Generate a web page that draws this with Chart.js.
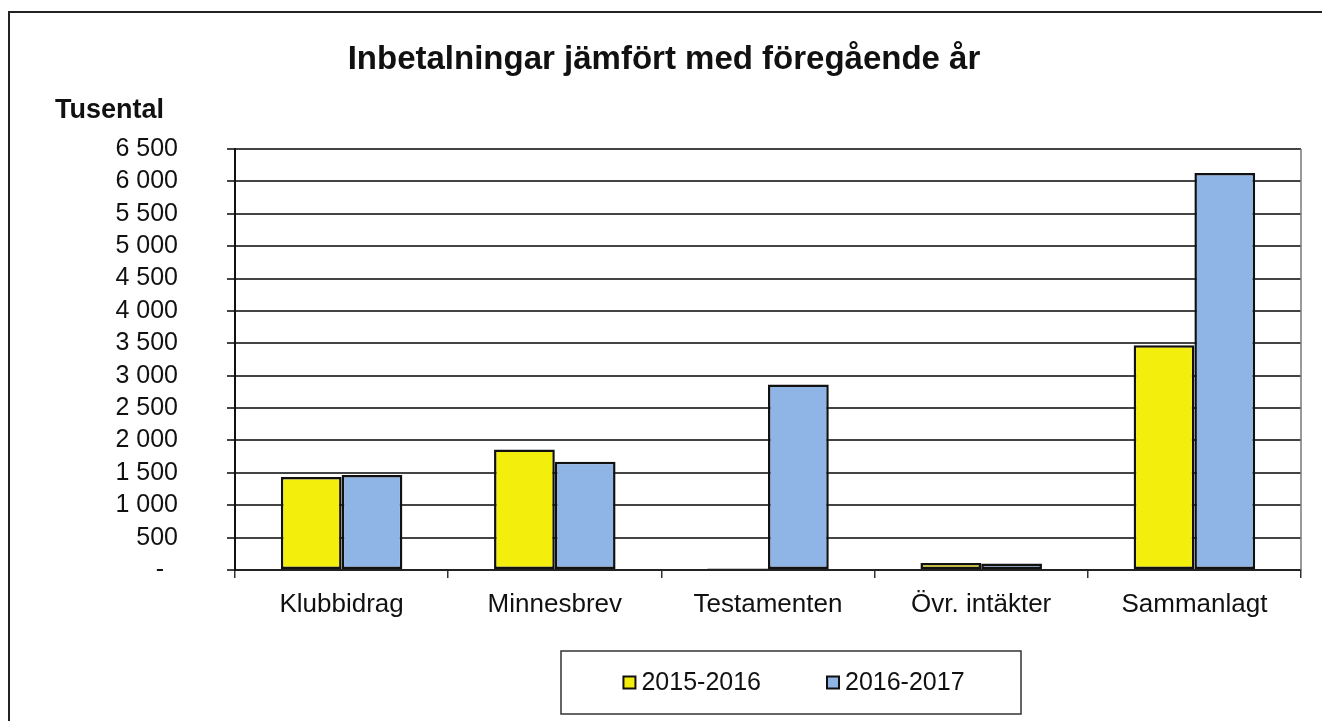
<!DOCTYPE html>
<html>
<head>
<meta charset="utf-8">
<script src="https://cdn.jsdelivr.net/npm/chart.js@4/dist/chart.umd.min.js"></script>
<style>
  html, body { margin: 0; padding: 0; background: #fff; }
  #wrap { position: relative; width: 1322px; height: 721px; }
</style>
</head>
<body>
<div id="wrap"><canvas id="myChart"></canvas></div>
<script>
// data
const kategorier = ['Klubbidrag', 'Minnesbrev', 'Testamenten', 'Övr. intäkter', 'Sammanlagt'];
const ar2015 = [1435, 1860, 25, 110, 3470];
const ar2016 = [1465, 1670, 2865, 100, 6130];
const serieNamn = ['2015-2016', '2016-2017'];
const serieFarg = ['#f4ee0c', '#8fb4e6'];

const fontNamn = '"Liberation Sans", Arial, sans-serif';

// tusental med mellanslag, noll som streck
function formatTick(v) {
    if (v === 0) return '-  ';
    return String(v).replace(/\B(?=(\d{3})+(?!\d))/g, ' ');
}

// ram, rubrik, enhet, legend och högerkant
const ritaExtra = {
    id: 'ritaExtra',
    afterDraw(chart) {
        const ctx = chart.ctx;
        const area = chart.chartArea;
        ctx.save();

        // yttre ram
        ctx.strokeStyle = '#222';
        ctx.lineWidth = 2;
        ctx.beginPath();
        ctx.moveTo(9, 721);
        ctx.lineTo(9, 12);
        ctx.lineTo(1322, 12);
        ctx.stroke();

        // högerkant på diagramytan
        ctx.strokeStyle = '#777';
        ctx.lineWidth = 1.5;
        ctx.beginPath();
        ctx.moveTo(area.right, area.top);
        ctx.lineTo(area.right, area.bottom);
        ctx.stroke();

        // rubrik
        ctx.fillStyle = '#111';
        ctx.textBaseline = 'alphabetic';
        ctx.textAlign = 'center';
        ctx.font = 'bold 33px ' + fontNamn;
        ctx.fillText('Inbetalningar jämfört med föregående år', 664, 69);

        // enhet
        ctx.textAlign = 'left';
        ctx.font = 'bold 27px ' + fontNamn;
        ctx.fillText('Tusental', 55, 118);

        // legend
        const box = { x: 561, y: 651, w: 460, h: 63 };
        ctx.strokeStyle = '#333';
        ctx.lineWidth = 1.5;
        ctx.strokeRect(box.x, box.y, box.w, box.h);

        ctx.font = '25px ' + fontNamn;
        const ds = chart.data.datasets;
        const marker = 12, gapText = 6, gapItem = 66;
        const widths = ds.map(d => marker + gapText + ctx.measureText(d.label).width);
        const total = widths.reduce((a, b) => a + b, 0) + gapItem * (ds.length - 1);
        let x = box.x + box.w / 2 - total / 2 + 3;
        const cy = box.y + box.h / 2;
        ds.forEach((d, i) => {
            ctx.fillStyle = d.backgroundColor;
            ctx.fillRect(x, cy - marker / 2, marker, marker);
            ctx.strokeStyle = '#111';
            ctx.lineWidth = 2;
            ctx.strokeRect(x, cy - marker / 2, marker, marker);
            ctx.fillStyle = '#111';
            ctx.textBaseline = 'middle';
            ctx.fillText(d.label, x + marker + gapText, cy + 1);
            x += widths[i] + gapItem;
        });

        ctx.restore();
    }
};

const config = {
    type: 'bar',
    data: {
        labels: kategorier,
        datasets: [
            {
                label: serieNamn[0],
                data: ar2015,
                backgroundColor: serieFarg[0],
                borderColor: '#111',
                borderWidth: 2.5,
                borderSkipped: false
            },
            {
                label: serieNamn[1],
                data: ar2016,
                backgroundColor: serieFarg[1],
                borderColor: '#111',
                borderWidth: 2.5,
                borderSkipped: false
            }
        ]
    },
    options: {
        responsive: false,
        animation: false,
        categoryPercentage: 0.57,
        barPercentage: 1,
        layout: {
            padding: { top: 149, right: 21, left: 0, bottom: 0 }
        },
        plugins: {
            legend: { display: false },
            title: { display: false },
            tooltip: { enabled: false }
        },
        scales: {
            x: {
                afterFit(scale) { scale.height = 151; },
                grid: {
                    offset: true,
                    drawOnChartArea: false,
                    drawTicks: true,
                    tickLength: 8,
                    color: '#333',
                    lineWidth: 1.5
                },
                border: { color: '#222', width: 2 },
                ticks: {
                    color: '#111',
                    padding: 11,
                    maxRotation: 0,
                    autoSkip: false,
                    font: { family: fontNamn, size: 26 }
                }
            },
            y: {
                min: 0,
                max: 6500,
                afterFit(scale) { scale.width = 235; },
                grid: {
                    color: '#444',
                    lineWidth: 2,
                    tickLength: 8
                },
                border: { color: '#111', width: 2 },
                ticks: {
                    stepSize: 500,
                    autoSkip: false,
                    color: '#111',
                    padding: 49,
                    font: { family: fontNamn, size: 25 },
                    callback: formatTick
                }
            }
        }
    },
    plugins: [ritaExtra]
};

document.addEventListener('DOMContentLoaded', function() {
    const canvas = document.getElementById('myChart');
    canvas.width = 1322;
    canvas.height = 721;
    canvas.style.width = '1322px';
    canvas.style.height = '721px';
    new Chart(canvas.getContext('2d'), config);
});
</script>
</body>
</html>
